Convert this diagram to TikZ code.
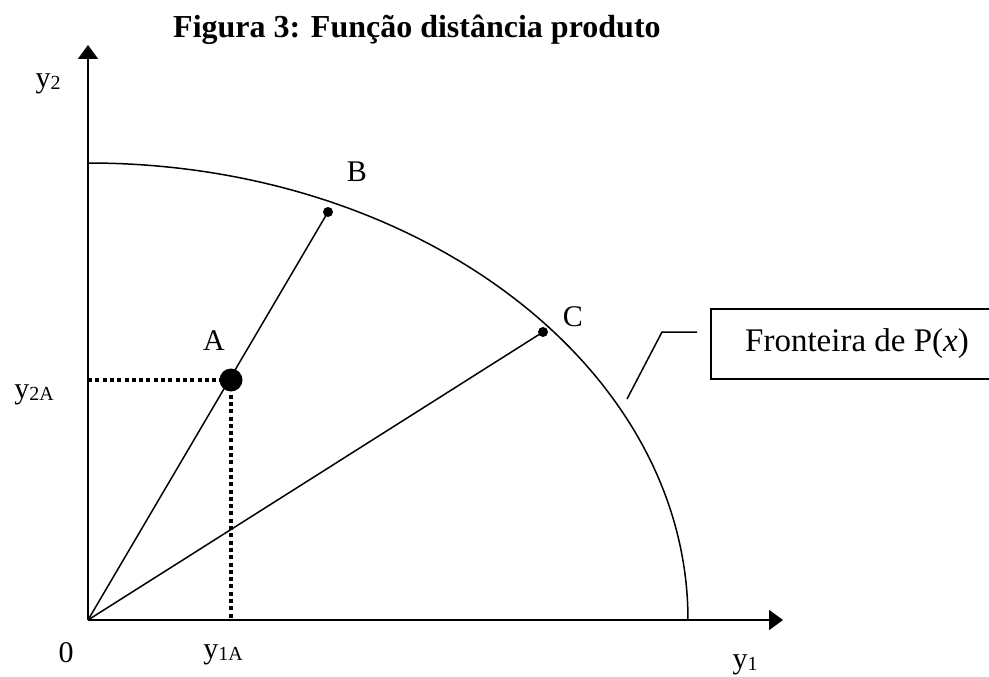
\documentclass[tikz,border=0pt]{standalone}
\usepackage{fontspec}
\setmainfont{Liberation Serif}
\usetikzlibrary{arrows.meta}
\newcommand{\lbl}{\fontsize{30}{34}\selectfont}
\newcommand{\sbs}[1]{\raisebox{-2pt}{\fontsize{20}{23}\selectfont #1}}
\begin{document}
\begin{tikzpicture}[x=1pt,y=-1pt,
  axis/.style={line width=2pt,-{Triangle[length=14pt,width=20pt]}},
  ray/.style={line width=1.5pt},
  guide/.style={line width=3.5pt,dash pattern=on 4pt off 3.3pt},
  dotpt/.style={circle,fill=black,inner sep=0pt,minimum size=10pt},
  bigdot/.style={circle,fill=black,inner sep=0pt,minimum size=23pt},
  txt/.style={inner sep=0pt,font=\lbl}]
\useasboundingbox (0,0) rectangle (989,677);
% title
\node[anchor=base west,inner sep=0pt,font=\fontsize{32}{36}\selectfont\bfseries] (title) at (173,38) {Figura 3: Função distância produto};
% axes
\coordinate (O) at (88,620);
\coordinate (ytip) at (88,45);
\coordinate (xtip) at (783,620);
\draw[axis] (O) -- (ytip);
\draw[axis] (O) -- (xtip);
% frontier
\coordinate (top) at (88,163);
\draw[ray] (top) arc[start angle=90,end angle=0,x radius=600pt,y radius=457pt];
% points
\node[dotpt] (B) at (328,212) {};
\node[dotpt] (C) at (543,332) {};
\coordinate (Ac) at (231,380);
\coordinate (xA) at (231,620);
\coordinate (yA) at (88,380);
\draw[ray] (O) -- (B.center);
\draw[ray] (O) -- (C.center);
\draw[guide] (yA) -- (Ac);
\draw[guide] (Ac) -- (xA);
\node[bigdot] (A) at (Ac) {};
% labels
\node[txt] (lA) at (214,341) {A};
\node[txt] (lB) at (357,172) {B};
\node[txt] (lC) at (573,317) {C};
\node[txt,anchor=base] (l0) at (66,662) {0};
\node[txt,anchor=base] (ly2) at (48,88) {y\sbs{2}};
\node[txt,anchor=base] (ly2A) at (34,398) {y\sbs{2A}};
\node[txt,anchor=base] (ly1A) at (223,658) {y\sbs{1A}};
\node[txt,anchor=base] (ly1) at (745,668) {y\sbs{1}};
% legend box
\node[draw,line width=1.5pt,minimum width=292pt,minimum height=70pt,inner sep=0pt,font=\fontsize{33}{38}\selectfont] (box) at (857,344) {Fronteira de P(\textit{x})};
\coordinate (l1) at (627,399);
\coordinate (l2) at (662,332);
\coordinate (l3) at (697,332);
\draw[ray] (l1) -- (l2) -- (l3);
\end{tikzpicture}
\end{document}
